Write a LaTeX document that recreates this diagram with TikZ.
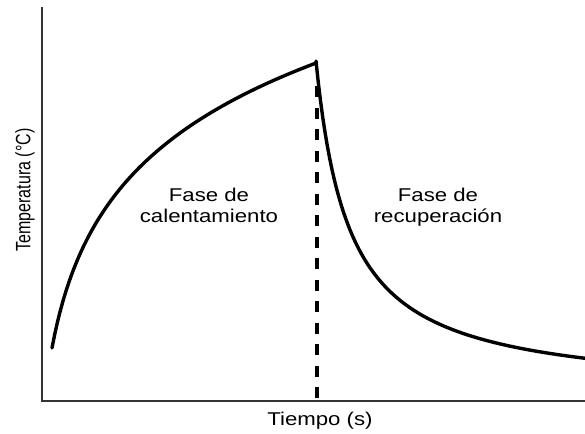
\documentclass[tikz,border=0pt]{standalone}
\usepackage{graphicx}
\usepackage{fontspec}
\setmainfont{Liberation Sans}
\newfontfamily\widefont[FakeStretch=1.2]{Liberation Sans}
\tikzset{
  axisline/.style={line width=1.4pt, draw=black!80},
  curveline/.style={line width=3.4pt, line join=round, line cap=round},
  dashline/.style={line width=3.4pt, dash pattern=on 11pt off 10.5pt},
  phaselabel/.style={font=\widefont\fontsize{18.5}{21}\selectfont, align=center, inner sep=0pt},
  axislabel/.style={font=\fontsize{16}{19}\selectfont, inner sep=0pt},
}

\begin{document}
\begin{tikzpicture}[x=1pt,y=-1pt]
				% 画布大小
				\useasboundingbox (0,0) rectangle (585,433);
				% 坐标轴
				\coordinate (top) at (42,7);
				\coordinate (origin) at (42,401);
				\coordinate (right) at (585,401);
				\draw[axisline] (top) -- (origin) -- (right);
				% 升温与恢复曲线
				\draw[curveline] plot[domain=52:316, samples=100] (\x, {348-107.4*ln(1+(\x-52)/20)})
					-- plot[domain=316:585, samples=120] (\x, {395-11104/(\x-282.75)});
				% 分界虚线
				\coordinate (peakfoot) at (317,398);
				\coordinate (peaktop) at (317,76);
				\draw[dashline] (peakfoot) -- (peaktop);
				% 标记阶段
				\node[phaselabel, anchor=north] (heatlabel) at (209,188) {Fase de\\calentamiento};
				\node[phaselabel, anchor=north] (coollabel) at (438,188) {Fase de\\recuperación};
				% 标记坐标轴
				\node[phaselabel, anchor=base] (xlabel) at (320,425) {Tiempo (s)};
				\node[axislabel, rotate=90] (ylabel) at (25,190) {\scalebox{1}[1.3]{Temperatura (°C)}};
			\end{tikzpicture}
\end{document}
